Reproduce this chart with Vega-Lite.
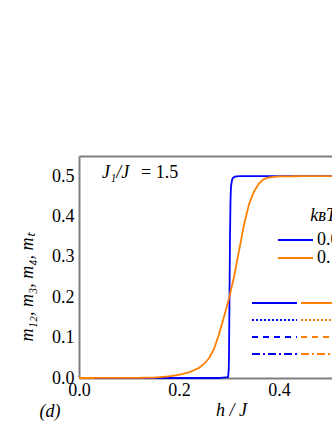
{
  "$schema": "https://vega.github.io/schema/vega-lite/v6.json",
  "width": 253,
  "height": 222,
  "autosize": "none",
  "padding": {"left": 79, "top": 156, "right": 0, "bottom": 52},
  "background": "white",
  "config": {
    "view": {"stroke": null},
    "font": "Liberation Serif",
    "axis": {
      "labelFont": "Liberation Serif",
      "titleFont": "Liberation Serif",
      "labelFontSize": 18,
      "titleFontSize": 18,
      "titleFontWeight": "normal",
      "titleFontStyle": "italic",
      "labelColor": "black",
      "titleColor": "black",
      "domainColor": "#7f7f7f",
      "domainWidth": 2,
      "tickColor": "#7f7f7f",
      "tickWidth": 1.5,
      "tickSize": 0,
      "grid": false,
      "labelFlush": false,
      "labelOverlap": false
    },
    "legend": {
      "labelFont": "Liberation Serif",
      "titleFont": "Liberation Serif",
      "labelFontSize": 18,
      "titleFontSize": 18,
      "labelColor": "black",
      "titleColor": "black"
    }
  },
  "datasets": {
    "curves": [
      {"T": "0.01", "h": 0.0, "m": 0.0},
      {"T": "0.01", "h": 0.28, "m": 0.0},
      {"T": "0.01", "h": 0.298, "m": 0.002},
      {"T": "0.01", "h": 0.2995, "m": 0.02},
      {"T": "0.01", "h": 0.3, "m": 0.06},
      {"T": "0.01", "h": 0.301, "m": 0.2},
      {"T": "0.01", "h": 0.302, "m": 0.35},
      {"T": "0.01", "h": 0.303, "m": 0.44},
      {"T": "0.01", "h": 0.304, "m": 0.475},
      {"T": "0.01", "h": 0.306, "m": 0.49},
      {"T": "0.01", "h": 0.308, "m": 0.496},
      {"T": "0.01", "h": 0.312, "m": 0.499},
      {"T": "0.01", "h": 0.32, "m": 0.5},
      {"T": "0.01", "h": 0.6, "m": 0.5},
      {"T": "0.1", "h": 0.0, "m": 0.0},
      {"T": "0.1", "h": 0.1, "m": 0.0002},
      {"T": "0.1", "h": 0.15, "m": 0.001},
      {"T": "0.1", "h": 0.18, "m": 0.004},
      {"T": "0.1", "h": 0.2, "m": 0.008},
      {"T": "0.1", "h": 0.22, "m": 0.014},
      {"T": "0.1", "h": 0.24, "m": 0.025},
      {"T": "0.1", "h": 0.25, "m": 0.035},
      {"T": "0.1", "h": 0.26, "m": 0.049},
      {"T": "0.1", "h": 0.27, "m": 0.072},
      {"T": "0.1", "h": 0.28, "m": 0.108},
      {"T": "0.1", "h": 0.29, "m": 0.152},
      {"T": "0.1", "h": 0.3, "m": 0.197},
      {"T": "0.1", "h": 0.31, "m": 0.25},
      {"T": "0.1", "h": 0.32, "m": 0.315},
      {"T": "0.1", "h": 0.33, "m": 0.38},
      {"T": "0.1", "h": 0.34, "m": 0.43},
      {"T": "0.1", "h": 0.35, "m": 0.462},
      {"T": "0.1", "h": 0.36, "m": 0.482},
      {"T": "0.1", "h": 0.37, "m": 0.493},
      {"T": "0.1", "h": 0.38, "m": 0.497},
      {"T": "0.1", "h": 0.4, "m": 0.4995},
      {"T": "0.1", "h": 0.45, "m": 0.5},
      {"T": "0.1", "h": 0.6, "m": 0.5}
    ]
  },
  "layer": [
    {
      "data": {"name": "curves"},
      "transform": [{"filter": "datum.T == '0.01'"}],
      "mark": {"type": "line", "strokeWidth": 1.8},
      "encoding": {
        "x": {
          "field": "h", "type": "quantitative",
          "scale": {"domain": [0, 0.506], "nice": false, "zero": false},
          "axis": {
            "orient": "bottom",
            "values": [0, 0.1, 0.2, 0.3, 0.4, 0.5],
            "labelExpr": "round(datum.value*10) % 2 == 0 ? format(datum.value, '.1f') : ''",
            "labelPadding": 3,
            "title": "h / J",
            "titleX": 152,
            "titleY": 32,
            "titleBaseline": "middle",
            "encode": {"ticks": {"update": {"y2": {"signal": "round(datum.value*10) % 2 == 0 ? -5 : -3"}}}}
          }
        },
        "y": {
          "field": "m", "type": "quantitative",
          "scale": {"domain": [0, 0.55], "nice": false},
          "axis": {
            "values": [0, 0.05, 0.1, 0.15, 0.2, 0.25, 0.3, 0.35, 0.4, 0.45, 0.5],
            "labelExpr": "round(datum.value*20) % 2 == 0 ? format(datum.value, '.1f') : ''",
            "labelPadding": 5,
            "title": "m₁₂, m₃, m₄, mₜ",
            "titleX": -52,
            "titleY": 131,
            "titleBaseline": "middle",
            "encode": {"ticks": {"update": {"x2": {"signal": "round(datum.value*20) % 2 == 0 ? 5 : 3"}}}}
          }
        },
        "color": {
          "field": "T", "type": "nominal",
          "scale": {"domain": ["0.01", "0.1"], "range": ["#0000ff", "#ff7f00"]},
          "legend": {
            "orient": "none",
            "legendX": 198,
            "legendY": 51,
            "title": "kʙT/J",
            "titleFontStyle": "italic",
            "titleFontWeight": "normal",
            "titleAnchor": "end",
            "titlePadding": 6,
            "symbolType": "M-1,0H3.375",
            "symbolSize": 256,
            "symbolStrokeWidth": 2,
            "rowPadding": -4,
            "labelOffset": 22
          }
        },
        "strokeDash": {
          "datum": "m12", "type": "nominal",
          "scale": {"domain": ["m12", "m3", "m4", "mt"], "range": [[1, 0], [2, 2], [6, 5], [8, 3, 2, 3]]},
          "legend": {
            "orient": "none",
            "legendX": 172,
            "legendY": 138,
            "title": null,
            "symbolType": "M-1,0H4.625",
            "symbolSize": 256,
            "symbolStrokeColor": "#0000ff",
            "symbolStrokeWidth": 2,
            "labelFontSize": 16,
            "rowPadding": -2.4,
            "labelExpr": "''"
          }
        }
      }
    },
    {
      "data": {"name": "curves"},
      "transform": [{"filter": "datum.T == '0.1'"}],
      "mark": {"type": "line", "strokeWidth": 1.8},
      "encoding": {
        "x": {
          "field": "h", "type": "quantitative",
          "axis": {
            "orient": "top",
            "values": [0, 0.1, 0.2, 0.3, 0.4, 0.5],
            "labels": false,
            "title": null,
            "encode": {"ticks": {"update": {"y2": {"signal": "round(datum.value*10) % 2 == 0 ? 5 : 3"}}}}
          }
        },
        "y": {"field": "m", "type": "quantitative"},
        "color": {"field": "T", "type": "nominal"},
        "strokeDash": {
          "datum": "m12", "type": "nominal",
          "scale": {"domain": ["m12", "m3", "m4", "mt"], "range": [[1, 0], [2, 2], [6, 5], [8, 3, 2, 3]]},
          "legend": {
            "orient": "none",
            "legendX": 221,
            "legendY": 138,
            "title": null,
            "symbolType": "M-1,0H4.625",
            "symbolSize": 256,
            "symbolStrokeColor": "#ff7f00",
            "symbolStrokeWidth": 2,
            "labelFontSize": 16,
            "labelOffset": 35,
            "rowPadding": -2.4,
            "labelExpr": "{'m12': 'm₁₂', 'm3': 'm₃', 'm4': 'm₄', 'mt': 'mₜ'}[datum.value]"
          }
        }
      }
    },
    {
      "data": {"values": [{}]},
      "mark": {"type": "text", "align": "left", "baseline": "alphabetic", "fontSize": 18, "fontStyle": "italic", "font": "Liberation Serif"},
      "encoding": {
        "x": {"datum": 0.046, "type": "quantitative", "axis": null},
        "y": {"datum": 0.495, "type": "quantitative"},
        "text": {"value": "J₁/J"}
      }
    },
    {
      "data": {"values": [{}]},
      "mark": {"type": "text", "align": "left", "baseline": "alphabetic", "fontSize": 18, "font": "Liberation Serif"},
      "encoding": {
        "x": {"datum": 0.124, "type": "quantitative", "axis": null},
        "y": {"datum": 0.495, "type": "quantitative"},
        "text": {"value": "= 1.5"}
      }
    },
    {
      "data": {"values": [{}]},
      "mark": {"type": "text", "align": "center", "baseline": "middle", "fontSize": 18, "fontStyle": "italic", "font": "Liberation Serif"},
      "encoding": {
        "x": {"datum": -0.058, "type": "quantitative", "axis": null},
        "y": {"datum": -0.085, "type": "quantitative"},
        "text": {"value": "(d)"}
      }
    }
  ],
  "resolve": {
    "scale": {"strokeDash": "independent"},
    "legend": {"strokeDash": "independent"},
    "axis": {"x": "independent"}
  }
}
